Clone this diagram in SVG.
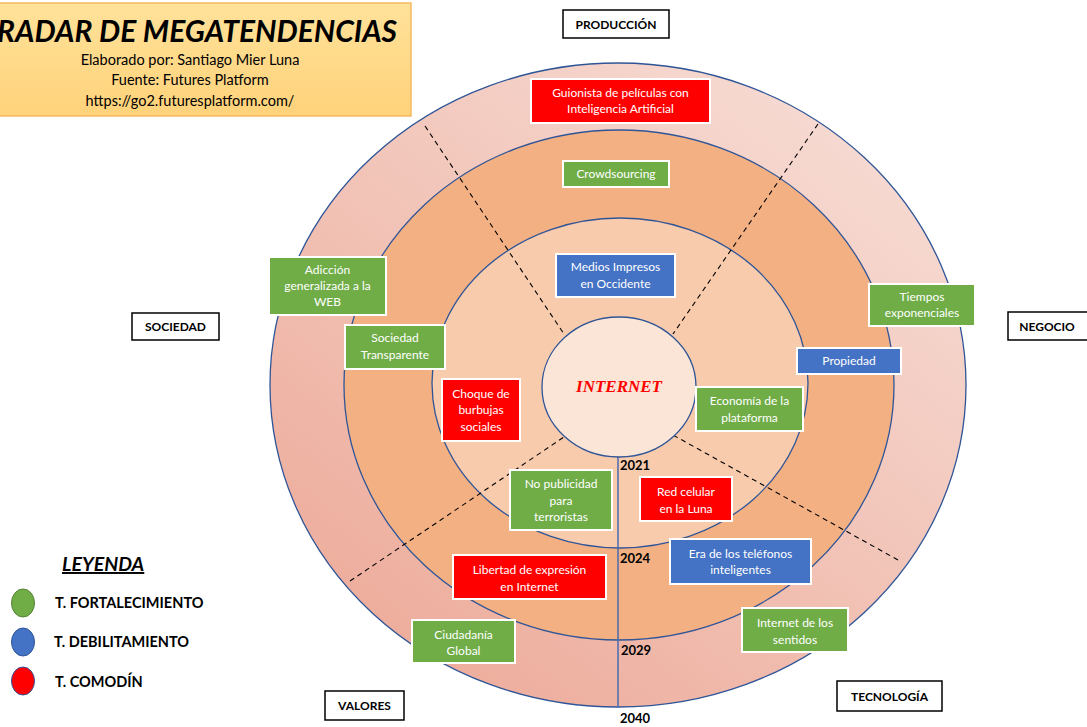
<svg xmlns="http://www.w3.org/2000/svg" width="1087" height="727" viewBox="0 0 1087 727">
<defs>
<linearGradient id="gOuter" x1="0.85" y1="0.1" x2="0.15" y2="0.95">
<stop offset="0" stop-color="#F6DAD2"/>
<stop offset="1" stop-color="#EDAB9A"/>
</linearGradient>
<linearGradient id="gTitle" x1="0" y1="0" x2="0" y2="1">
<stop offset="0" stop-color="#FFE29A"/>
<stop offset="1" stop-color="#FFD27A"/>
</linearGradient>
<style>
.ring{stroke:#2F5597;stroke-width:1.3}
.dash{stroke:#000;stroke-width:1.1;stroke-dasharray:5 4;fill:none}
.node rect{stroke:#fff;stroke-width:2}
.node text{font-family:Lato,"Open Sans",sans-serif;font-size:12px;fill:#fff;text-anchor:middle}
.g rect{fill:#70AD47}
.b rect{fill:#4472C4}
.r rect{fill:#FF0000}
.cat rect{fill:#fff;stroke:#000;stroke-width:1.5}
.cat text{font-family:Lato,"Open Sans",sans-serif;font-size:12px;font-weight:bold;fill:#000;text-anchor:middle}
.yr{font-family:Lato,"Open Sans",sans-serif;font-size:13px;font-weight:bold;fill:#000}
.sub{font-family:Lato,"Open Sans",sans-serif;font-size:14.5px;fill:#000;text-anchor:middle}
.leg{font-family:Lato,"Open Sans",sans-serif;font-size:14.5px;font-weight:bold;fill:#000}
</style>
</defs>
<rect width="1087" height="727" fill="#fff"/>

<g id="rings">
<ellipse class="ring" cx="618" cy="385" rx="348" ry="322" fill="url(#gOuter)"/>
<ellipse class="ring" cx="619" cy="385" rx="275" ry="255" fill="#F3B083"/>
<ellipse class="ring" cx="620" cy="383" rx="188" ry="165" fill="#F8CBAD"/>
<line x1="618" y1="457" x2="618" y2="707" stroke="#4A6BAF" stroke-width="1.5"/>
</g>

<g id="connectors">
<line class="dash" x1="425" y1="126" x2="564" y2="334"/>
<line class="dash" x1="818" y1="124" x2="673" y2="334"/>
<line class="dash" x1="350" y1="581" x2="564" y2="437"/>
<line class="dash" x1="898" y1="560" x2="673" y2="435"/>
</g>

<g id="center">
<ellipse class="ring" cx="619" cy="387" rx="77" ry="70" fill="#FBE5D6"/>
<text x="619" y="392" font-family="'Liberation Serif',serif" font-size="17" font-weight="bold" font-style="italic" fill="#FF0000" text-anchor="middle">INTERNET</text>
</g>

<g id="years">
<text class="yr" x="620" y="470">2021</text>
<text class="yr" x="620" y="563">2024</text>
<text class="yr" x="621" y="655">2029</text>
<text class="yr" x="620" y="723">2040</text>
</g>

<g id="title">
<rect x="-10" y="3" width="421" height="113" fill="url(#gTitle)" stroke="#F4B961" stroke-width="1.5"/>
<text x="-3" y="42" textLength="400" lengthAdjust="spacingAndGlyphs" font-family="Lato,'Open Sans',sans-serif" font-size="31" font-weight="bold" font-style="italic" fill="#000">RADAR DE MEGATENDENCIAS</text>
<text class="sub" x="190" y="65">Elaborado por: Santiago Mier Luna</text>
<text class="sub" x="190" y="85">Fuente: Futures Platform</text>
<text class="sub" x="190" y="106">https://go2.futuresplatform.com/</text>
</g>

<g id="cat-produccion" class="cat"><rect x="563" y="10" width="106" height="28"/><text x="616" y="29">PRODUCCIÓN</text></g>
<g id="cat-sociedad" class="cat"><rect x="132" y="313" width="87" height="27"/><text x="175.5" y="331">SOCIEDAD</text></g>
<g id="cat-negocio" class="cat"><rect x="1008" y="312" width="84" height="28"/><text x="1047" y="331">NEGOCIO</text></g>
<g id="cat-valores" class="cat"><rect x="325" y="691" width="79" height="29"/><text x="364.5" y="710">VALORES</text></g>
<g id="cat-tecnologia" class="cat"><rect x="837" y="681" width="105" height="30"/><text x="889.5" y="701">TECNOLOGÍA</text></g>

<g id="n-guionista" class="node r"><rect x="531" y="79" width="179" height="44" stroke="none"/><text x="620.5" y="97">Guionista de películas con</text><text x="620.5" y="113">Inteligencia Artificial</text></g>
<g id="n-crowd" class="node g"><rect x="563" y="161" width="106" height="26"/><text x="616" y="178">Crowdsourcing</text></g>
<g id="n-medios" class="node b"><rect x="556" y="254" width="119" height="43"/><text x="615.5" y="271">Medios Impresos</text><text x="615.5" y="288">en Occidente</text></g>
<g id="n-adiccion" class="node g"><rect x="269" y="257" width="117" height="58"/><text x="327.5" y="274">Adicción</text><text x="327.5" y="290">generalizada a la</text><text x="327.5" y="306">WEB</text></g>
<g id="n-sociedad" class="node g"><rect x="345" y="325" width="100" height="44"/><text x="395" y="342">Sociedad</text><text x="395" y="359">Transparente</text></g>
<g id="n-tiempos" class="node g"><rect x="869" y="284" width="106" height="42"/><text x="922" y="301">Tiempos</text><text x="922" y="317">exponenciales</text></g>
<g id="n-propiedad" class="node b"><rect x="797" y="348" width="104" height="26"/><text x="849" y="365">Propiedad</text></g>
<g id="n-economia" class="node g"><rect x="696" y="387" width="107" height="44"/><text x="749.5" y="405">Economía de la</text><text x="749.5" y="422">plataforma</text></g>
<g id="n-choque" class="node r"><rect x="442" y="379" width="78" height="62" stroke="none"/><text x="481" y="398">Choque de</text><text x="481" y="414">burbujas</text><text x="481" y="431">sociales</text></g>
<g id="n-nopub" class="node g"><rect x="510" y="470" width="102" height="60"/><text x="561" y="488">No publicidad</text><text x="561" y="505">para</text><text x="561" y="521">terroristas</text></g>
<g id="n-red" class="node r"><rect x="640" y="477" width="92" height="44" stroke="none"/><text x="686" y="496">Red celular</text><text x="686" y="513">en la Luna</text></g>
<g id="n-libertad" class="node r"><rect x="453" y="555" width="153" height="44" stroke="none"/><text x="529.5" y="574">Libertad de expresión</text><text x="529.5" y="591">en Internet</text></g>
<g id="n-era" class="node b"><rect x="670" y="539" width="141" height="45"/><text x="740.5" y="558">Era de los teléfonos</text><text x="740.5" y="574">inteligentes</text></g>
<g id="n-sentidos" class="node g"><rect x="742" y="608" width="106" height="44"/><text x="795" y="627">Internet de los</text><text x="795" y="644">sentidos</text></g>
<g id="n-ciudadania" class="node g"><rect x="412" y="620" width="103" height="43"/><text x="463.5" y="639">Ciudadanía</text><text x="463.5" y="655">Global</text></g>

<g id="legend">
<text x="62" y="571" font-family="Lato,'Open Sans',sans-serif" font-size="19.5" font-weight="bold" font-style="italic" text-decoration="underline" fill="#000">LEYENDA</text>
<ellipse cx="23" cy="603" rx="11.5" ry="14" fill="#70AD47" stroke="#548235" stroke-width="1"/>
<ellipse cx="23" cy="642" rx="11.5" ry="14" fill="#4472C4" stroke="#2F5597" stroke-width="1"/>
<ellipse cx="23" cy="681" rx="11.5" ry="14" fill="#FF0000" stroke="#2F5597" stroke-width="1"/>
<text class="leg" x="55" y="608">T. FORTALECIMIENTO</text>
<text class="leg" x="54" y="647">T. DEBILITAMIENTO</text>
<text class="leg" x="55" y="687">T. COMODÍN</text>
</g>
</svg>
